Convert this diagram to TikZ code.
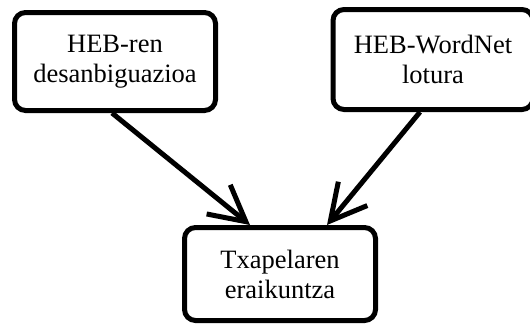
\documentclass[tikz,border=0pt]{standalone}
\usepackage{fontspec}
\setmainfont{Liberation Serif}
\usetikzlibrary{arrows.meta}

\begin{document}
\begin{tikzpicture}[x=1pt, y=1pt,
    box/.style={draw, line width=5pt, rounded corners=11pt, align=center,
        font=\fontsize{26.5}{30}\selectfont, inner sep=0pt},
    link/.style={line width=5pt, -{Straight Barb[angle=56:40pt]}}]
    \useasboundingbox (0,0) rectangle (530,325);
    % Boxes
    \node[box, minimum width=201pt, minimum height=98pt] (heb) at (115,263.5)
        {HEB-ren\\desanbiguazioa};
    \node[box, minimum width=200pt, minimum height=100pt] (wn) at (433,265.5)
        {HEB-WordNet\\lotura};
    \node[box, minimum width=191pt, minimum height=93pt] (txap) at (280,51)
        {Txapelaren\\eraikuntza};
    % Arrows
    \draw[link] ([xshift=-3pt]heb.south) -- ([xshift=-30pt]txap.north);
    \draw[link] ([xshift=-13pt]wn.south) -- ([xshift=47pt]txap.north);
\end{tikzpicture}
\end{document}
